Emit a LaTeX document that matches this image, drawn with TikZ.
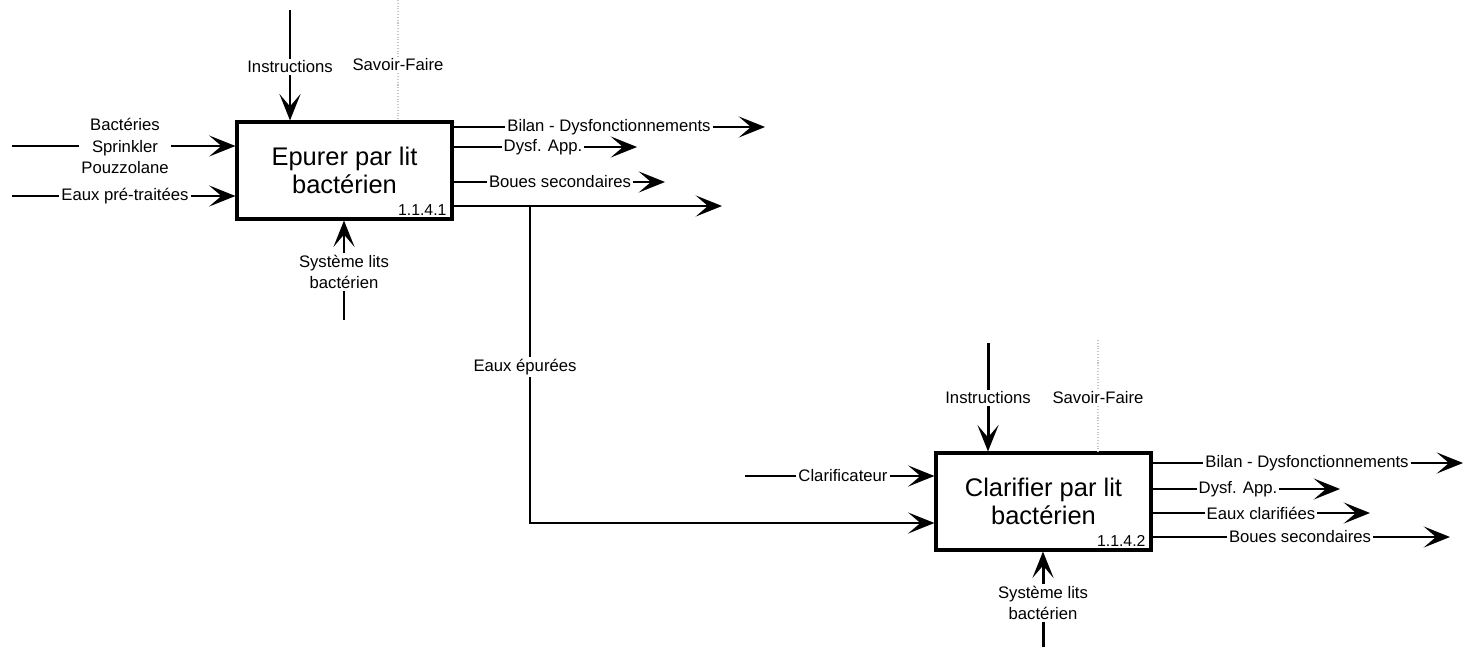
\documentclass[tikz,border=0pt]{standalone}
\usepackage{fontspec}
\setmainfont{Liberation Sans}
\usetikzlibrary{arrows.meta}

\begin{document}
\begin{tikzpicture}[x=0.02cm,y=-0.02cm,
  flow/.style={line width=1.2pt},
  flowarr/.style={line width=1.2pt,-{Stealth[length=15pt,width=12pt,inset=7pt]}},
  ctrl/.style={line width=1.7pt},
  ctrlarr/.style={line width=1.7pt,-{Stealth[length=15pt,width=12pt,inset=7pt]}},
  know/.style={gray!45,densely dotted,line width=0.6pt},
  lbl/.style={font=\fontsize{9.5}{12}\selectfont,inner sep=1pt,align=center},
  actbox/.style={draw,line width=1.8pt,minimum width=4.3cm,minimum height=1.94cm,inner sep=0pt,align=center,font=\fontsize{14.5}{15.5}\selectfont},
  refnum/.style={font=\fontsize{9}{10}\selectfont,inner sep=1pt,anchor=south east}]
\useasboundingbox (0,0) rectangle (1468,649);

\node[actbox] (epurer) at (344.5,170.5) {Epurer par lit\\bactérien};
\node[refnum] (epurer-num) at ([shift={(-5,-3)}]epurer.south east) {1.1.4.1};

\coordinate (in-bact) at (12,146);
\node[lbl] (bact) at (125,146) {Bactéries\\Sprinkler\\Pouzzolane};
\draw[flow] (in-bact) -- (bact);
\draw[flowarr] (bact) -- (epurer.west |- bact);
\coordinate (in-eaux) at (12,196);
\node[lbl] (eaux) at (125,196) {Eaux pré-traitées};
\draw[flow] (in-eaux) -- (eaux);
\draw[flowarr] (eaux) -- (epurer.west |- eaux);

\coordinate (ins1-top) at (290,10);
\node[lbl] (ins1) at (290,67) {Instructions};
\draw[ctrl] (ins1-top) -- (ins1);
\draw[ctrlarr] (ins1) -- (epurer.north -| ins1);
\coordinate (sf1-top) at (398,0);
\node[lbl] (sf1) at (398,65) {Savoir-Faire};
\draw[know] (sf1-top) -- (sf1);
\draw[know] (sf1) -- (epurer.north -| sf1);
\coordinate (mec1-bot) at (344,320);
\node[lbl] (mec1) at (344,272) {Système lits\\bactérien};
\draw[ctrl] (mec1-bot) -- (mec1);
\draw[ctrlarr] (mec1) -- (epurer.south -| mec1);

\coordinate (out1-bilan) at (765,127);
\node[lbl] (bilan1) at (609,127) {Bilan - Dysfonctionnements};
\draw[flow] (epurer.east |- bilan1) -- (bilan1);
\draw[flowarr] (bilan1) -- (out1-bilan);
\coordinate (out1-dysf) at (637,147);
\node[lbl] (dysf1) at (543,147) {Dysf. App.};
\draw[flow] (epurer.east |- dysf1) -- (dysf1);
\draw[flowarr] (dysf1) -- (out1-dysf);
\coordinate (out1-boues) at (665,182);
\node[lbl] (boues1) at (560,182) {Boues secondaires};
\draw[flow] (epurer.east |- boues1) -- (boues1);
\draw[flowarr] (boues1) -- (out1-boues);
\coordinate (out1-eaux) at (722,206);
\draw[flowarr] (epurer.east |- out1-eaux) -- (out1-eaux);

\node[actbox] (clarif) at (1043.5,501.5) {Clarifier par lit\\bactérien};
\node[refnum] (clarif-num) at ([shift={(-5,-3)}]clarif.south east) {1.1.4.2};

\coordinate (split) at (530,206);
\coordinate (epu-turn) at (530,523);
\node[lbl] (epurees) at (525,367) {Eaux épurées};
\draw[flow] (split) -- (split |- epurees.north);
\draw[flowarr] (split |- epurees.south) -- (epu-turn) -- (clarif.west |- epu-turn);
\coordinate (in-clar) at (745,476);
\node[lbl] (clar) at (843,476) {Clarificateur};
\draw[flow] (in-clar) -- (clar);
\draw[flowarr] (clar) -- (clarif.west |- clar);

\coordinate (ins2-top) at (988,343);
\node[lbl] (ins2) at (988,398) {Instructions};
\draw[ctrl] (ins2-top) -- (ins2);
\draw[ctrlarr] (ins2) -- (clarif.north -| ins2);
\coordinate (sf2-top) at (1098,340);
\node[lbl] (sf2) at (1098,398) {Savoir-Faire};
\draw[know] (sf2-top) -- (sf2);
\draw[know] (sf2) -- (clarif.north -| sf2);
\coordinate (mec2-bot) at (1043,647);
\node[lbl] (mec2) at (1043,603) {Système lits\\bactérien};
\draw[ctrl] (mec2-bot) -- (mec2);
\draw[ctrlarr] (mec2) -- (clarif.south -| mec2);

\coordinate (out2-bilan) at (1463,463);
\node[lbl] (bilan2) at (1307,463) {Bilan - Dysfonctionnements};
\draw[flow] (clarif.east |- bilan2) -- (bilan2);
\draw[flowarr] (bilan2) -- (out2-bilan);
\coordinate (out2-dysf) at (1340,489);
\node[lbl] (dysf2) at (1238,489) {Dysf. App.};
\draw[flow] (clarif.east |- dysf2) -- (dysf2);
\draw[flowarr] (dysf2) -- (out2-dysf);
\coordinate (out2-clar) at (1370,513);
\node[lbl] (clar2) at (1261,513) {Eaux clarifiées};
\draw[flow] (clarif.east |- clar2) -- (clar2);
\draw[flowarr] (clar2) -- (out2-clar);
\coordinate (out2-boues) at (1450,537);
\node[lbl] (boues2) at (1300,537) {Boues secondaires};
\draw[flow] (clarif.east |- boues2) -- (boues2);
\draw[flowarr] (boues2) -- (out2-boues);
\end{tikzpicture}
\end{document}
